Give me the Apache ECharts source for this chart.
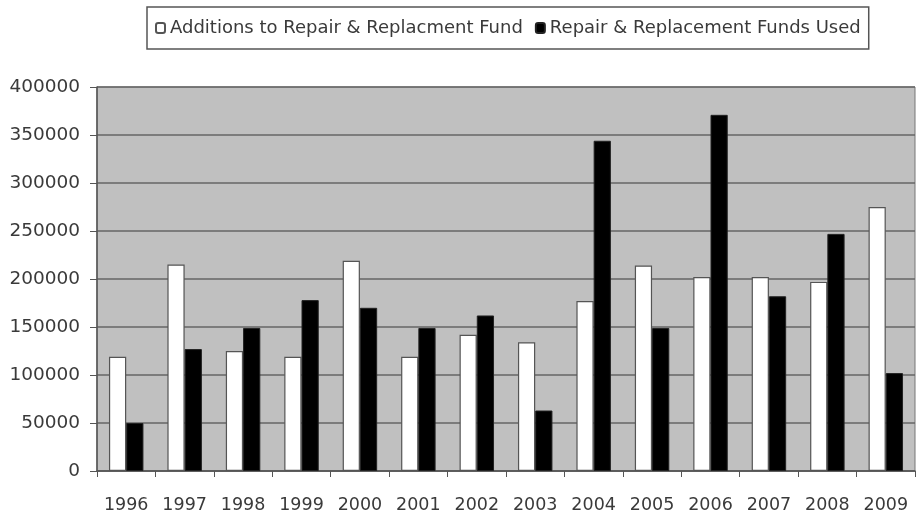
<!DOCTYPE html>
<html>
<head>
<meta charset="utf-8">
<script src="https://cdn.jsdelivr.net/npm/echarts@6/dist/echarts.min.js"></script>
<style>html,body{margin:0;padding:0;background:#fff}#c{width:920px;height:516px}</style>
</head>
<body>
<div id="c"></div>
<script>
var years = ['1996','1997','1998','1999','2000','2001','2002','2003','2004','2005','2006','2007','2008','2009'];
var additions = [119000,215000,125000,119000,219000,119000,142000,134000,177000,214000,202000,202000,197000,275000];
var fundsUsed = [50000,127000,149000,178000,170000,149000,162000,63000,344000,149000,371000,182000,247000,102000];
var yTicks = [0,50000,100000,150000,200000,250000,300000,350000,400000];

var font = 'DejaVu Sans';
var chart = echarts.init(document.getElementById('c'));
chart.setOption({
  animation: false,
  textStyle: {fontFamily: font},
  legend: {
    left: 147, top: 7,
    padding: [12, 8, 12, 8],
    borderColor: '#555', borderWidth: 1.5,
    itemWidth: 9, itemHeight: 10, itemGap: 12,
    textStyle: {fontFamily: font, fontSize: 18, color: '#3a3a3a'},
    data: ['Additions to Repair & Replacment Fund', 'Repair & Replacement Funds Used']
  },
  grid: {
    left: 97, right: 5, top: 87, bottom: 45,
    show: true, backgroundColor: '#c0c0c0', borderColor: '#777', borderWidth: 1
  },
  xAxis: {
    type: 'category', data: years,
    axisLine: {lineStyle: {color: '#555', width: 1.5}},
    axisTick: {show: true, length: 6, lineStyle: {color: '#555'}},
    axisLabel: {interval: 0, margin: 25, fontSize: 17.5, color: '#3a3a3a', fontFamily: font}
  },
  yAxis: {
    type: 'value', min: yTicks[0], max: yTicks[yTicks.length-1], interval: 50000,
    axisLine: {show: true, lineStyle: {color: '#555', width: 1.5}},
    axisTick: {show: true, length: 7, lineStyle: {color: '#555'}},
    axisLabel: {margin: 17, fontSize: 18.5, color: '#3a3a3a', fontFamily: font,
      formatter: function (v) { return String(v); }},
    splitLine: {lineStyle: {color: '#666', width: 1.5}}
  },
  series: [
    {name: 'Additions to Repair & Replacment Fund', type: 'bar', data: additions,
     barGap: '0%', barCategoryGap: '41%',
     itemStyle: {color: '#ffffff', borderColor: '#555', borderWidth: 1.2}},
    {name: 'Repair & Replacement Funds Used', type: 'bar', data: fundsUsed,
     itemStyle: {color: '#000000', borderColor: '#222', borderWidth: 1}}
  ]
});
</script>
</body>
</html>
